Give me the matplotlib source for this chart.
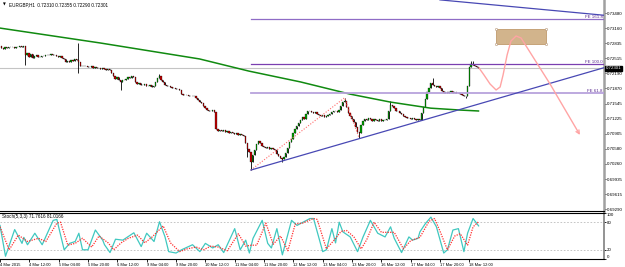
import numpy as np
import matplotlib.pyplot as plt

# EURGBP H1 closes, one per bar
closes = [
    0.7277, 0.7274, 0.7272, 0.7275, 0.7274, 0.7276, 0.7275, 0.7276, 0.7274, 0.7276, 0.7275, 0.7277, 0.7276, 0.7277,
    0.7258,
    0.7262, 0.7255, 0.7260, 0.7251, 0.7256, 0.7258, 0.7255,
    0.7254, 0.7256, 0.7257, 0.7258, 0.7258, 0.7259, 0.7260, 0.7259, 0.7258, 0.7257, 0.7255, 0.7256, 0.7253, 0.7250,
    0.7244,
    0.7246, 0.7244, 0.7248, 0.7246, 0.7249,
    0.7247, 0.7244,
    0.7236, 0.7234, 0.7236, 0.7234, 0.7233, 0.7232, 0.7234, 0.7231, 0.7232, 0.7230, 0.7231, 0.7229, 0.7230, 0.7228, 0.7227, 0.7228,
    0.7226, 0.7220, 0.7214, 0.7208, 0.7212, 0.7205, 0.7200, 0.7206,
    0.7205, 0.7208, 0.7212, 0.7209, 0.7213, 0.7211,
    0.7200, 0.7196, 0.7198, 0.7195, 0.7194, 0.7196, 0.7193, 0.7192, 0.7194, 0.7191, 0.7193,
    0.7200, 0.7210, 0.7214,
    0.7205, 0.7200, 0.7195, 0.7192, 0.7193, 0.7190, 0.7188, 0.7189, 0.7186, 0.7185, 0.7183,
    0.7175, 0.7174, 0.7173, 0.7174, 0.7172, 0.7171, 0.7172, 0.7170,
    0.7166, 0.7162, 0.7158, 0.7155, 0.7150, 0.7145, 0.7142, 0.7140, 0.7138, 0.7141, 0.7136,
    0.7100, 0.7097, 0.7099, 0.7096, 0.7098, 0.7095, 0.7097, 0.7093, 0.7095, 0.7092, 0.7090, 0.7093, 0.7088, 0.7090, 0.7087, 0.7085,
    0.7070, 0.7058, 0.7052, 0.7030,
    0.7045, 0.7055, 0.7068, 0.7075,
    0.7070, 0.7065, 0.7062, 0.7060, 0.7063, 0.7058, 0.7061, 0.7057,
    0.7055, 0.7048, 0.7042, 0.7038, 0.7036, 0.7040,
    0.7050, 0.7060, 0.7072, 0.7080, 0.7092, 0.7100, 0.7108, 0.7113,
    0.7120, 0.7126, 0.7122, 0.7132, 0.7138, 0.7140,
    0.7136, 0.7134, 0.7137, 0.7133, 0.7130, 0.7128, 0.7130, 0.7126,
    0.7128, 0.7131, 0.7133, 0.7136, 0.7138, 0.7140, 0.7137, 0.7142,
    0.7150, 0.7158, 0.7160, 0.7148,
    0.7135, 0.7128, 0.7122, 0.7115,
    0.7105, 0.7095, 0.7092,
    0.7110, 0.7118, 0.7122, 0.7120, 0.7123, 0.7121, 0.7118, 0.7122,
    0.7120, 0.7118, 0.7121, 0.7117, 0.7120, 0.7119, 0.7122,
    0.7140, 0.7152,
    0.7150, 0.7145, 0.7140, 0.7138, 0.7135, 0.7132, 0.7128,
    0.7126, 0.7124, 0.7125, 0.7122, 0.7123, 0.7121, 0.7120, 0.7122, 0.7120,
    0.7135, 0.7147,
    0.7165, 0.7179, 0.7188,
    0.7198, 0.7195, 0.7192,
    0.7190, 0.7193, 0.7188,
    0.7182, 0.7178, 0.7180, 0.7177, 0.7179, 0.7181, 0.7178, 0.7180, 0.7177, 0.7178, 0.7176,
    0.7174, 0.7170, 0.7172,
    0.7192,
    0.7232,
    0.7240, 0.7238, 0.7236, 0.7232, 0.72301,
]
first_open = 0.7278

# long wicks
high_bars = [43, 87, 188, 213, 236, 257, 258]
high_vals = [0.7284, 0.7218, 0.7167, 0.7160, 0.7210, 0.7245, 0.7246]
low_bars = [14, 43, 66, 135, 137, 154, 196, 254]
low_vals = [0.7237, 0.7220, 0.7183, 0.7040, 0.7013, 0.7030, 0.7081, 0.7166]

# moving average (green)
ma_bars = [0, 55, 109, 136, 164, 191, 213, 235, 251, 261]
ma_vals = [0.7316, 0.7284, 0.7250, 0.7224, 0.7201, 0.7175, 0.7158, 0.7145, 0.7141, 0.7139]

# drawings
fe_names = ["FE 161.8", "FE 100.0", "FE 61.8"]
fe_levels = [0.7335, 0.7239, 0.7178]
fe_colors = ["#8f6cc6", "#7a3fb0", "#b8a2dc"]
fe_start = 137
fe_pts_bars = [137, 188, 196]
fe_pts_vals = [0.7013, 0.7167, 0.7081]
trend_lo_bars = [137, 330]
trend_lo_vals = [0.7013, 0.7232]
trend_hi_bars = [240, 330]
trend_hi_vals = [0.7376, 0.7343]
box_bars = [270.6, 297.8]
box_vals = [0.7282, 0.7314]
path_bars = [261.3, 264, 267.3, 270.6, 272.8, 274.4, 276.6, 278.7, 281.5, 284.2, 300, 316.3]
path_vals = [0.72307, 0.72158, 0.71966, 0.71838, 0.71902, 0.72158, 0.72584, 0.72883,
             0.72989, 0.72947, 0.71966, 0.70878]
last_price = 0.72301

price_ticks = [0.73480, 0.73160, 0.72835, 0.72515, 0.72190, 0.71870, 0.71545,
               0.71225, 0.70905, 0.70580, 0.70260, 0.69935, 0.69615, 0.69290]

time_labels = ["4 Mar 2015", "4 Mar 12:00", "5 Mar 04:00", "5 Mar 20:00", "6 Mar 12:00",
               "9 Mar 04:00", "9 Mar 20:00", "10 Mar 12:00", "11 Mar 04:00", "11 Mar 20:00",
               "12 Mar 12:00", "13 Mar 04:00", "13 Mar 20:00", "16 Mar 12:00", "17 Mar 04:00",
               "17 Mar 20:00", "18 Mar 12:00"]
time_bars = [0, 16, 32, 48, 64, 80, 96, 112, 128, 144, 160, 176, 192, 208, 224, 240, 256]

# stochastic (5,3,3)
stoch_bars = [0, 3, 8, 12, 13, 15, 19, 23, 29, 31, 35, 38, 41, 43, 45, 48, 52, 56, 57, 60,
              63, 67, 73, 77, 80, 84, 87, 90, 92, 96, 99, 105, 109, 112, 116, 119, 122, 128, 131, 134,
              136, 138, 143, 146, 148, 151, 154, 159, 162, 169, 171, 176, 178, 181, 183, 185, 187, 191, 195, 198,
              202, 206, 210, 213, 215, 219, 223, 225, 228, 229, 232, 235, 238, 242, 244, 247, 250, 253, 255, 258,
              261]
stoch_main = [73, 6, 64, 34, 47, 31, 56, 31, 84, 86, 20, 34, 38, 56, 20, 20, 63, 41, 31, 14,
              43, 41, 57, 27, 56, 38, 81, 48, 16, 13, 20, 31, 16, 34, 24, 31, 14, 66, 20, 41,
              13, 45, 84, 34, 24, 66, 9, 84, 73, 88, 88, 16, 20, 66, 35, 80, 59, 48, 16, 48,
              84, 56, 48, 70, 45, 14, 48, 41, 45, 59, 77, 91, 70, 13, 20, 63, 66, 16, 56, 88,
              72]
signal_bars = [0, 5, 10, 15, 21, 25, 31, 33, 37, 41, 45, 50, 54, 59, 62, 66, 70, 75, 79, 83,
               89, 93, 98, 102, 107, 111, 115, 119, 124, 130, 134, 137, 140, 145, 149, 153, 157, 161, 165, 171,
               173, 178, 182, 186, 189, 193, 197, 200, 204, 208, 212, 215, 220, 224, 229, 234, 237, 240, 244, 248,
               251, 255, 258, 261]
signal_vals = [70, 20, 52, 38, 45, 38, 78, 80, 30, 34, 45, 26, 50, 35, 20, 35, 45, 52, 35, 48,
               72, 35, 16, 22, 26, 20, 28, 26, 18, 55, 28, 30, 30, 78, 32, 50, 18, 76, 78, 88,
               86, 22, 40, 60, 62, 48, 22, 42, 80, 58, 58, 58, 22, 40, 47, 82, 88, 60, 20, 50,
               55, 30, 70, 81]

plt.rcParams['font.family'] = ['Liberation Sans', 'DejaVu Sans']

W, H = 625, 267
fig = plt.figure(figsize=(W / 100, H / 100), dpi=100)
ax = fig.add_axes([0, 1 - 211 / H, 604 / W, 211 / H])
ax2 = fig.add_axes([0, 1 - 259 / H, 604 / W, 46 / H])

n = len(closes)
x = np.arange(n)
c = np.array(closes)
o = np.array([first_open] + closes[:-1])
hi = np.maximum(o, c)
lo = np.minimum(o, c)
for b, v in zip(high_bars, high_vals):
    hi[b] = v
for b, v in zip(low_bars, low_vals):
    lo[b] = v

# current price line behind everything
ax.axhline(last_price, color="#c4c4c4", lw=0.8, zorder=1)

ax.vlines(x, lo, hi, color="black", lw=0.6, zorder=3)
up = c >= o
ax.bar(x[up], (c - o)[up], bottom=o[up], width=0.7, color="#00a000",
       edgecolor="black", lw=0.2, zorder=4)
ax.bar(x[~up], (o - c)[~up], bottom=c[~up], width=0.7, color="#c00000",
       edgecolor="black", lw=0.2, zorder=4)

ax.plot(ma_bars, ma_vals, color="#108a10", lw=1.1, zorder=5)

xmax = 329.4
for name, lvl, col in zip(fe_names, fe_levels, fe_colors):
    lw = 1.3 if name == "FE 61.8" else 0.9
    ax.plot([fe_start, xmax], [lvl, lvl], color=col, lw=lw, zorder=5)
    ax.text(xmax - 0.7, lvl, name, color="#5a2a90", fontsize=3.2,
            ha="right", va="bottom", zorder=6)
ax.plot(fe_pts_bars, fe_pts_vals, color="#ff6a6a", lw=0.8,
        linestyle=(0, (1, 1.5)), zorder=5)

ax.plot(trend_lo_bars, trend_lo_vals, color="#4848b4", lw=0.9, zorder=5)
ax.plot(trend_hi_bars, trend_hi_vals, color="#4848b4", lw=0.9, zorder=5)

ax.fill_between(box_bars, box_vals[0], box_vals[1], color="#d2b48c",
                edgecolor="#c09a6c", lw=0.6, zorder=5)
ax.plot([box_bars[0], box_bars[1], box_bars[0], box_bars[1]],
        [box_vals[0], box_vals[0], box_vals[1], box_vals[1]], "o", ls="none",
        ms=1.6, mfc="white", mec="#b09070", mew=0.4, zorder=6)

ax.plot(path_bars[:-1], path_vals[:-1], color="#ffa4a4", lw=1.0, zorder=6)
ax.annotate("", xy=(path_bars[-1], path_vals[-1]), xytext=(path_bars[-2], path_vals[-2]),
            arrowprops=dict(arrowstyle="->", color="#ffa4a4", lw=1.0,
                            mutation_scale=6, shrinkA=0, shrinkB=0), zorder=6)

ax.set_xlim(0.27, xmax)
ax.set_ylim(0.692567, 0.737573)
ax.set_xticks([])
ax.yaxis.tick_right()
ax.set_yticks(price_ticks)
ax.set_yticklabels([f"{v:.5f}" for v in price_ticks])
ax.tick_params(axis="y", length=1.2, width=0.6, pad=0.8, labelsize=3.2)
for s in ["top", "left"]:
    ax.spines[s].set_visible(False)
ax.spines["right"].set_color("#a0a0a0")
ax.spines["right"].set_linewidth(1.8)
ax.spines["bottom"].set_color("black")
ax.spines["bottom"].set_linewidth(0.8)

ax.annotate(f"{last_price:.5f}", xy=(1.0, last_price), xycoords=("axes fraction", "data"),
            xytext=(1.2, 0), textcoords="offset points", va="center", ha="left",
            fontsize=3.2, color="white", annotation_clip=False,
            bbox=dict(boxstyle="square,pad=0.12", fc="black", ec="black"))

fig.text(2.5 / W, 1 - 4.5 / H, "\u25bc", fontsize=2.6, family="DejaVu Sans", va="center")
fig.text(9 / W, 1 - 4.5 / H, "EURGBP,H1  0.72310 0.72355 0.72290 0.72301",
         fontsize=3.3, va="center")

# stochastic panel
ax2.axhline(80, color="#bcbcbc", lw=0.6, linestyle=(0, (2, 2)))
ax2.axhline(20, color="#bcbcbc", lw=0.6, linestyle=(0, (2, 2)))
ax2.plot(stoch_bars, stoch_main, color="#40c8c0", lw=0.9)
ax2.plot(signal_bars, signal_vals, color="#ff3030", lw=0.9, linestyle=(0, (1, 1)))
ax2.text(0.004, 0.97, "Stoch(5,3,3) 71.7616 81.0166", transform=ax2.transAxes,
         fontsize=3.3, va="top", ha="left")

ax2.set_xlim(0.27, xmax)
ax2.set_ylim(0, 100)
ax2.yaxis.tick_right()
ax2.set_yticks([0, 20, 80, 100])
ax2.set_yticklabels(["0", "20", "80", "100"])
ax2.tick_params(axis="y", length=1.2, width=0.6, pad=0.8, labelsize=3.2)
for lab in ax2.get_yticklabels():
    if lab.get_text() == "100":
        lab.set_va("top")
    elif lab.get_text() == "0":
        lab.set_va("bottom")
ax2.set_xticks(time_bars)
ax2.set_xticklabels(time_labels)
ax2.tick_params(axis="x", length=2.2, width=0.6, pad=0.4, labelsize=2.9)
for lab in ax2.get_xticklabels():
    lab.set_ha("left")
ax2.spines["left"].set_visible(False)
ax2.spines["right"].set_color("#808080")
ax2.spines["right"].set_linewidth(1.2)
ax2.spines["top"].set_linewidth(0.8)
ax2.spines["bottom"].set_linewidth(0.8)

fig.savefig("out.png", dpi=100)
